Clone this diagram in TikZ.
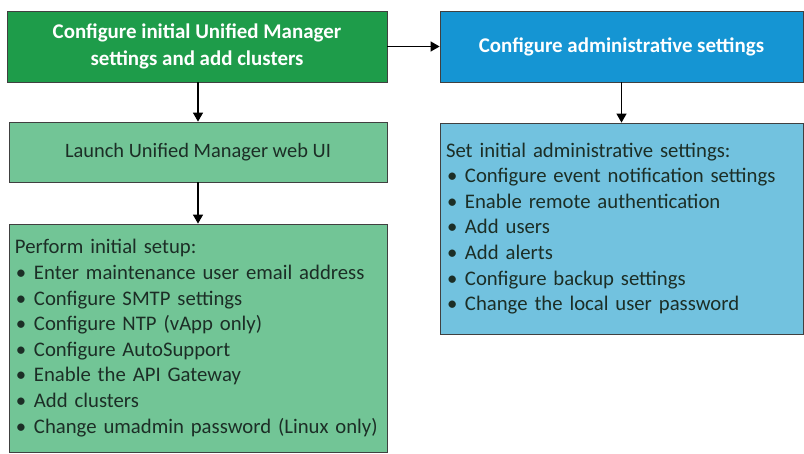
\documentclass[tikz,border=0pt]{standalone}
\usepackage{fontspec}
\setmainfont{Carlito}
\usetikzlibrary{arrows.meta}
\definecolor{headgreen}{HTML}{1E9C4A}
\definecolor{stepgreen}{HTML}{72C596}
\definecolor{headblue}{HTML}{1595D3}
\definecolor{stepblue}{HTML}{72C2DF}
\definecolor{inkdark}{HTML}{1C2E26}
\newcommand{\itm}[1]{\\\hspace*{1bp}\makebox[18bp][l]{\textbullet}#1}
\tikzset{
    headbox/.style={draw=black!75, line width=0.8bp, rectangle, align=center,
        text=white, font=\fontsize{21}{27}\selectfont\bfseries, inner sep=0pt},
    stepbox/.style={draw=black!75, line width=0.8bp, rectangle, align=center,
        text=inkdark, font=\fontsize{20.5}{25.7}\selectfont, inner sep=0pt},
    listbox/.style={draw=black!75, line width=0.8bp, rectangle, align=left,
        text=inkdark, font=\fontsize{20.8}{25.7}\selectfont, inner xsep=6bp,
        inner ysep=0pt},
    flowarrow/.style={line width=1.3bp, -{Triangle[width=10bp,length=9bp]}}
}
\begin{document}
\begin{tikzpicture}[x=1bp, y=-1bp]
    \useasboundingbox (0,0) rectangle (804,454);
    % left column
    \node[headbox, fill=headgreen, minimum width=380bp, minimum height=71bp]
        (setupHead) at (197,46.5)
        {Configure initial Unified Manager\\settings and add clusters};
    \node[stepbox, fill=stepgreen, minimum width=378bp, minimum height=60bp]
        (launch) at (198,152) {Launch Unified Manager web UI};
    \node[listbox, fill=stepgreen, minimum width=378bp, minimum height=228bp,
        text width=366bp] (setup) at (198,338)
        {Perform initial setup:
        \itm{Enter maintenance user email address}
        \itm{Configure SMTP settings}
        \itm{Configure NTP (vApp only)}
        \itm{Configure AutoSupport}
        \itm{Enable the API Gateway}
        \itm{Add clusters}
        \itm{Change umadmin password (Linux only)}};
    % right column
    \node[headbox, fill=headblue, minimum width=363bp, minimum height=71bp]
        (adminHead) at (621.5,46.5) {Configure administrative settings};
    \node[listbox, fill=stepblue, minimum width=363bp, minimum height=211bp,
        text width=351bp] (adminList) at (621.5,228.5)
        {Set initial administrative settings:
        \itm{Configure event notification settings}
        \itm{Enable remote authentication}
        \itm{Add users}
        \itm{Add alerts}
        \itm{Configure backup settings}
        \itm{Change the local user password}};
    % connectors
    \draw[flowarrow] (setupHead.east) -- (adminHead.west);
    \draw[flowarrow] (launch.north |- setupHead.south) -- (launch.north);
    \draw[flowarrow] (launch.south) -- (setup.north);
    \draw[flowarrow] (adminHead.south) -- (adminList.north);
\end{tikzpicture}
\end{document}
